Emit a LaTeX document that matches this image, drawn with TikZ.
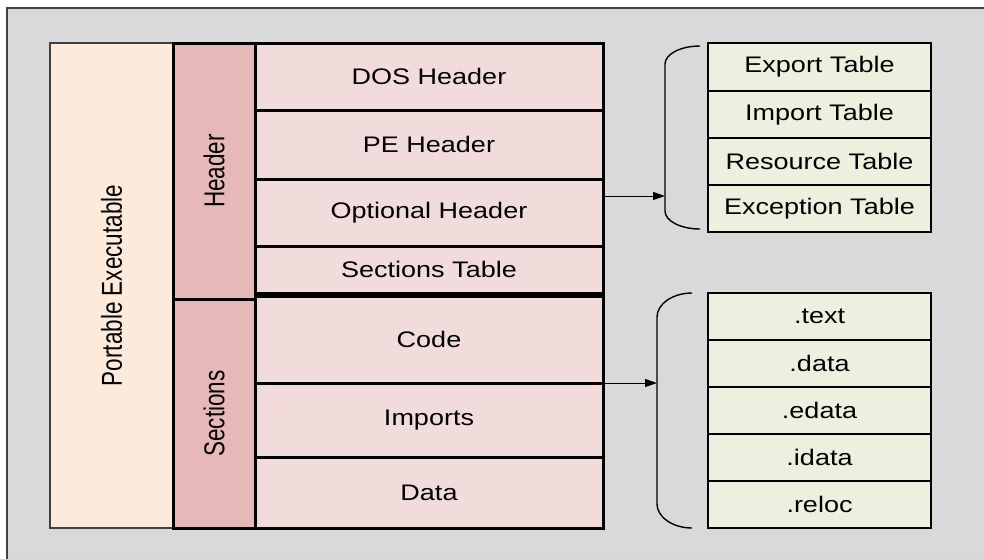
\documentclass[tikz,border=0pt]{standalone}
\usepackage{fontspec}
\setmainfont{Liberation Sans}[FakeStretch=1.2]
\newfontfamily\uprightfont{Liberation Sans}
\usetikzlibrary{arrows.meta}

\definecolor{framegrey}{HTML}{D9D9D9}
\definecolor{pefill}{HTML}{FDEADA}
\definecolor{partfill}{HTML}{E6B9B8}
\definecolor{rowfill}{HTML}{F2DCDB}
\definecolor{tablefill}{HTML}{EBF1DE}
\definecolor{thinedge}{HTML}{404040}

\tikzset{
  cell/.style={rectangle, inner sep=0pt, outer sep=0pt, line width=3pt,
               draw=black, align=center,
               font=\fontsize{22.5}{27}\selectfont},
  rowbox/.style={cell, fill=rowfill, minimum width=348pt},
  partbox/.style={cell, fill=partfill, minimum width=82pt},
  tablebox/.style={cell, fill=tablefill, minimum width=223pt, line width=2.7pt},
  pebox/.style={cell, fill=pefill, draw=thinedge, line width=1.3pt,
                minimum width=123pt},
  link/.style={line width=1pt, -{Triangle[length=12pt,width=8pt]}},
  bracket/.style={line width=1.4pt},
}

% vertical label: upright font, widened across the line, turned upwards
\newcommand{\uptext}[1]{\rotatebox{90}{\scalebox{1}[1.28]{\uprightfont #1}}}

\begin{document}
\begin{tikzpicture}[x={(1pt,0)}, y={(0,-1pt)}]
\useasboundingbox (0,0) rectangle (984,558);
\clip (0,0) rectangle (984,558);

% background frame
\draw[fill=framegrey, draw=thinedge, line width=1.5pt] (7,8) rectangle (1000,580);

% whole-file column
\node[pebox, minimum height=485pt] (pe) at (111.5,285.5)
  {\uptext{Portable Executable}};

% header / sections parts
\node[partbox, minimum height=256pt] (hdr) at (214,171) {\uptext{Header}};
\node[partbox, minimum height=229pt] (sec) at (214,413.5) {\uptext{Sections}};

% structure rows
\node[rowbox, minimum height=67pt] (dos)  at (429,76.5)  {DOS Header};
\node[rowbox, minimum height=69pt] (peh)  at (429,144.5) {PE Header};
\node[rowbox, minimum height=67pt] (opt)  at (429,212.5) {Optional Header};
\node[rowbox, minimum height=47pt] (stab) at (429,269.5) {Sections Table};
\node[rowbox, minimum height=87pt] (code) at (429,339.5) {Code};
\node[rowbox, minimum height=74pt] (imp)  at (429,420)   {Imports};
\node[rowbox, minimum height=71pt] (data) at (429,492.5) {Data};

% data directory tables
\node[tablebox, minimum height=48pt] (exp) at (819.5,67)   {Export Table};
\node[tablebox, minimum height=47pt] (imt) at (819.5,114.5) {Import Table};
\node[tablebox, minimum height=47pt] (res) at (819.5,161.5) {Resource Table};
\node[tablebox, minimum height=47pt] (exc) at (819.5,208.5) {Exception Table};

% section list
\node[tablebox, minimum height=47pt] (stext)  at (819.5,316.5) {.text};
\node[tablebox, minimum height=47pt] (sdata)  at (819.5,363.5) {.data};
\node[tablebox, minimum height=47pt] (sedata) at (819.5,410.5) {.edata};
\node[tablebox, minimum height=47pt] (sidata) at (819.5,457.5) {.idata};
\node[tablebox, minimum height=47pt] (sreloc) at (819.5,504.5) {.reloc};

% brackets grouping the tables
\draw[bracket] (700,46) .. controls (680.7,46) and (665,54) .. (665,64)
  -- (665,211) .. controls (665,221) and (680.7,229) .. (700,229);
\draw[bracket] (692,293) .. controls (672.7,293) and (657,304) .. (657,317)
  -- (657,504) .. controls (657,517) and (672.7,528) .. (692,528);

% arrow tips on the brackets
\coordinate (dirtip) at (665,196);
\coordinate (sectip) at (657,383);

\draw[link] (opt.east |- dirtip) -- (dirtip);
\draw[link] (code.south east) -- (sectip);
\end{tikzpicture}
\end{document}
